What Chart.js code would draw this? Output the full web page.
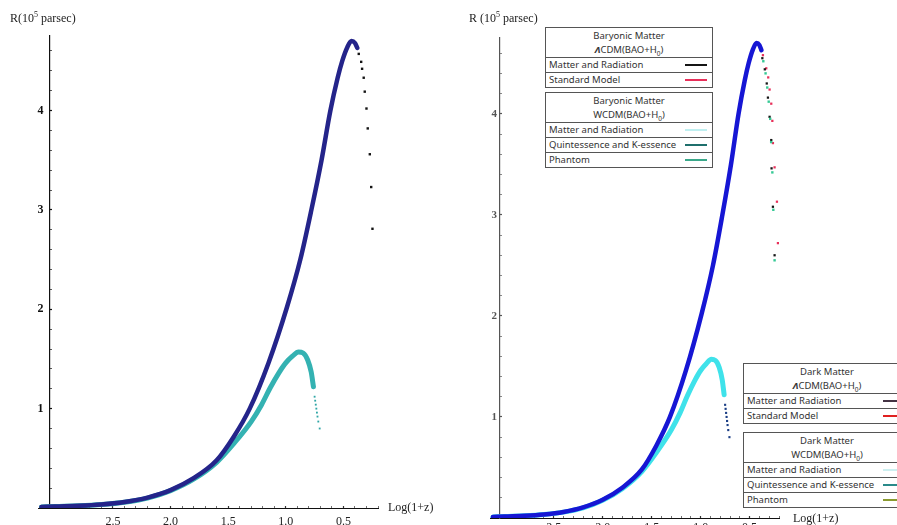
<!DOCTYPE html>
<html>
<head>
<meta charset="utf-8">
<script src="https://cdn.jsdelivr.net/npm/chart.js@4.4.1/dist/chart.umd.min.js"></script>
<style>
  html, body { margin: 0; padding: 0; background: #fff; }
  #fig { position: relative; width: 897px; height: 525px; overflow: hidden; background: #fff; }
  #fig canvas { position: absolute; top: 0; }
  .axlab { position: absolute; font: 12px "Liberation Serif", "DejaVu Serif", serif; color: #222; white-space: nowrap; }
  .axlab sup { font-size: 8px; vertical-align: 5px; line-height: 0; }
  .leg { position: absolute; width: 166px; border: 1px solid #555; background: #fff;
         font: 9.5px "Noto Sans", "Liberation Sans", sans-serif; color: #333; }
  .leg .hd { height: 29px; text-align: center; line-height: 14px; padding-top: 1px; box-sizing: border-box; }
  .leg .hd i { font-weight: bold; }
  .leg .hd sub { font-size: 6.5px; }
  .leg .row { height: 14px; line-height: 14px; border-top: 1px solid #555; padding-left: 3px; position: relative; white-space: nowrap; }
  .leg .sw { position: absolute; right: 5px; top: 6px; width: 22px; height: 2px; }
</style>
</head>
<body>
<div id="fig">
  <canvas id="left" width="450" height="525" style="left:0"></canvas>
  <canvas id="right" width="447" height="525" style="left:450px"></canvas>

  <div class="axlab" style="left:10px;top:11px">R(10<sup>5</sup> parsec)</div>
  <div class="axlab" style="left:388px;top:500px">Log(1+z)</div>
  <div class="axlab" style="left:469px;top:11px">R (10<sup>5</sup> parsec)</div>
  <div class="axlab" style="left:793px;top:511px">Log(1+z)</div>

  <div class="leg" style="left:545px;top:27px">
    <div class="hd">Baryonic Matter<br><i>Λ</i>CDM(BAO+H<sub>0</sub>)</div>
    <div class="row">Matter and Radiation<span class="sw" style="background:#151515"></span></div>
    <div class="row">Standard Model<span class="sw" style="background:#e8305a"></span></div>
  </div>
  <div class="leg" style="left:545px;top:92px">
    <div class="hd">Baryonic Matter<br>WCDM(BAO+H<sub>0</sub>)</div>
    <div class="row">Matter and Radiation<span class="sw" style="background:#bfeff0"></span></div>
    <div class="row">Quintessence and K-essence<span class="sw" style="background:#1f6f6c"></span></div>
    <div class="row">Phantom<span class="sw" style="background:#3aa88a"></span></div>
  </div>
  <div class="leg" style="left:743px;top:363px">
    <div class="hd">Dark Matter<br><i>Λ</i>CDM(BAO+H<sub>0</sub>)</div>
    <div class="row">Matter and Radiation<span class="sw" style="background:#443344"></span></div>
    <div class="row">Standard Model<span class="sw" style="background:#e02020"></span></div>
  </div>
  <div class="leg" style="left:743px;top:432px">
    <div class="hd">Dark Matter<br>WCDM(BAO+H<sub>0</sub>)</div>
    <div class="row">Matter and Radiation<span class="sw" style="background:#cdeff0"></span></div>
    <div class="row">Quintessence and K-essence<span class="sw" style="background:#2a8a8a"></span></div>
    <div class="row">Phantom<span class="sw" style="background:#8a9a30"></span></div>
  </div>
</div>

<script>
// Baryonic matter, R against Log(1+z)
const logZ_bary = [3.12, 3.00, 2.80, 2.60, 2.40, 2.20, 2.00, 1.80, 1.60, 1.45, 1.313, 1.15, 0.99, 0.874, 0.778, 0.69, 0.613, 0.55, 0.51, 0.465, 0.43, 0.40, 0.38];
const R_bary    = [0.01, 0.015, 0.022, 0.035, 0.06, 0.105, 0.18, 0.30, 0.48, 0.72, 1.00, 1.46, 2.02, 2.50, 3.00, 3.50, 4.00, 4.33, 4.50, 4.64, 4.70, 4.68, 4.63];

// Dark matter curve
const logZ_dark = [3.12, 3.00, 2.80, 2.60, 2.40, 2.20, 2.00, 1.80, 1.60, 1.45, 1.30, 1.21, 1.135, 1.06, 1.00, 0.94, 0.89, 0.85, 0.81, 0.78, 0.76];
const R_dark    = [0.01, 0.015, 0.022, 0.035, 0.058, 0.10, 0.175, 0.29, 0.46, 0.65, 0.87, 1.04, 1.21, 1.36, 1.46, 1.53, 1.57, 1.56, 1.49, 1.37, 1.22];

// sparse points where the dark matter curve falls off
const logZ_darkTail = [0.75, 0.745, 0.74, 0.735, 0.73, 0.725, 0.718, 0.706];
const R_darkTail    = [1.12, 1.08, 1.04, 1.00, 0.96, 0.92, 0.87, 0.80];

// left panel: falling branch after the baryonic peak
const logZ_tailL = [0.367, 0.346, 0.338, 0.324, 0.315, 0.300, 0.289, 0.271, 0.259, 0.248];
const R_tailL    = [4.57, 4.49, 4.42, 4.33, 4.19, 4.02, 3.82, 3.56, 3.23, 2.81];

// right panel: falling branches per model
const logZ_stdModel = [0.364, 0.33, 0.31, 0.296, 0.279, 0.268, 0.262, 0.245, 0.221, 0.211];
const R_stdModel    = [4.58, 4.45, 4.36, 4.24, 4.10, 3.93, 3.71, 3.47, 3.13, 2.72];
const logZ_matRad   = [0.37, 0.345, 0.325, 0.313, 0.296, 0.279, 0.276, 0.262, 0.245];
const R_matRad      = [4.55, 4.44, 4.30, 4.16, 3.97, 3.74, 3.46, 3.08, 2.60];
const logZ_quint    = [0.36, 0.337, 0.32, 0.305, 0.29, 0.28, 0.268, 0.258, 0.245];
const R_quint       = [4.52, 4.40, 4.26, 4.12, 3.95, 3.72, 3.42, 3.05, 2.55];

// labelled ticks
const xTickLabels = [2.5, 2.0, 1.5, 1.0, 0.5];
const yTickLabels = [1, 2, 3, 4];

const pts = (xs, ys) => xs.map((x, i) => ({ x, y: ys[i] }));
const near = (v, list) => list.some(t => Math.abs(v - t) < 1e-6);

// axes sit inside the plot area, so their label overhang must not resize it
const noOverhang = s => { s.paddingLeft = s.paddingRight = s.paddingTop = s.paddingBottom = 0; };

function curve(xs, ys, color, width) {
    return {
        data: pts(xs, ys), showLine: true, borderColor: color, borderWidth: width,
        pointRadius: 0, cubicInterpolationMode: 'monotone',
        borderCapStyle: 'round', borderJoinStyle: 'round',
    };
}

function dots(xs, ys, color, r) {
    return {
        data: pts(xs, ys), showLine: false, pointStyle: 'rect',
        pointRadius: r, backgroundColor: color, borderWidth: 0,
    };
}

function panel(id, datasets, padding, yColor, yFont, yGap, xPad) {
    const serif = '"Liberation Serif", "DejaVu Serif", serif';
    return new Chart(document.getElementById(id), {
        type: 'scatter',
        data: { datasets },
        options: {
            responsive: false,
            animation: false,
            layout: { padding },
            plugins: { legend: { display: false }, tooltip: { enabled: false } },
            scales: {
                x: {
                    type: 'linear', reverse: true, min: 0.2, max: 3.15,
                    position: { y: 0 },
                    afterFit: noOverhang,
                    border: { display: true, color: '#111', width: 1 },
                    grid: {
                        drawOnChartArea: false, tickLength: -3, tickColor: '#333',
                        tickWidth: ctx => near(ctx.tick.value, xTickLabels) ? 1.2 : 0.7,
                    },
                    ticks: {
                        stepSize: 0.1, includeBounds: false, autoSkip: false, maxRotation: 0,
                        padding: xPad, color: '#222', font: { family: serif, size: 12 },
                        callback: v => near(v, xTickLabels) ? v.toFixed(1) : '',
                    },
                },
                y: {
                    type: 'linear', min: 0, max: 4.75,
                    position: { x: 3.05 },
                    afterFit: noOverhang,
                    border: { display: true, color: yColor, width: 1.2 },
                    grid: {
                        drawOnChartArea: false, tickLength: -3, tickColor: yColor,
                        tickWidth: ctx => near(ctx.tick.value, yTickLabels) ? 1.2 : 0.7,
                    },
                    ticks: {
                        stepSize: 0.2, includeBounds: false, autoSkip: false,
                        color: yColor, font: { family: serif, size: yFont, weight: 'bold' },
                        // trailing spaces keep the label clear of the axis line
                        callback: v => near(v, yTickLabels) ? Math.round(v) + yGap : '',
                    },
                },
            },
        },
    });
}

panel('left', [
    curve(logZ_bary, R_bary, '#24248a', 4.5),
    dots(logZ_tailL, R_tailL, '#141414', 1.7),
    curve(logZ_dark, R_dark, '#34b2b2', 5),
    curve(logZ_dark, R_dark, '#52d8d6', 2.8),
    dots(logZ_darkTail, R_darkTail, '#2fa6a6', 1.3),
], { left: 38, right: 72, top: 36, bottom: 17 }, '#111', 12, '  ', 10);

panel('right', [
    curve(logZ_bary, R_bary, '#1616d4', 4.5),
    dots(logZ_quint, R_quint, '#36c995', 1.7),
    dots(logZ_matRad, R_matRad, '#151515', 1.6),
    dots(logZ_stdModel, R_stdModel, '#e8305a', 1.6),
    curve(logZ_dark, R_dark, '#3fe2ea', 5),
    dots(logZ_darkTail, R_darkTail, '#1c3f86', 1.5),
], { left: 40, right: 118, top: 38, bottom: 7 }, '#555', 11, ' ', 6);
</script>
</body>
</html>
